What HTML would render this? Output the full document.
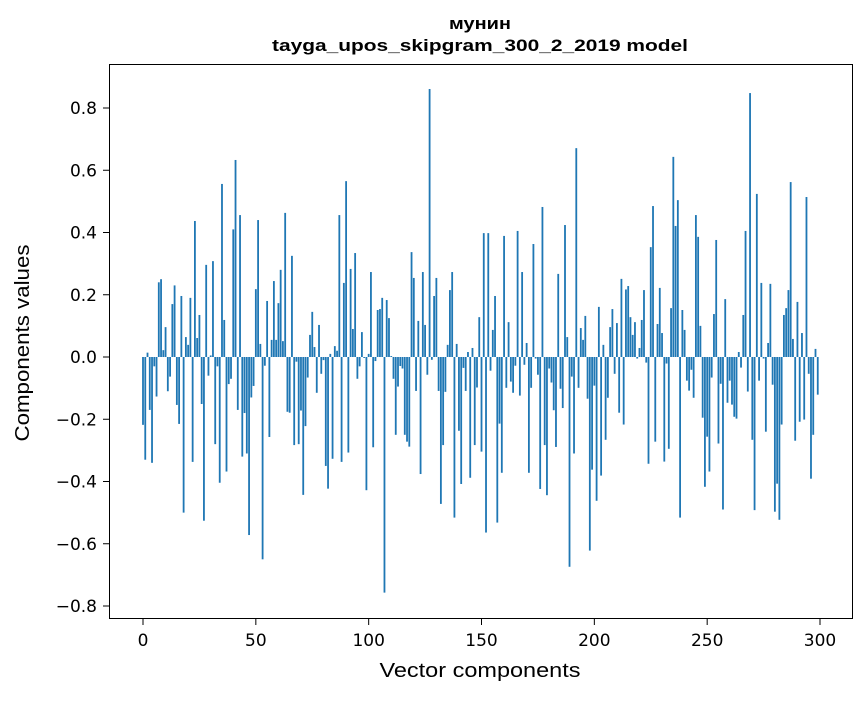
<!DOCTYPE html>
<html><head><meta charset="utf-8">
<style>
body{margin:0;background:#fff;font-family:"Liberation Sans","DejaVu Sans",sans-serif;}
svg text{font-family:"DejaVu Sans","Liberation Sans",sans-serif;}
svg text.lib{font-family:"Liberation Sans","DejaVu Sans",sans-serif;}
</style></head>
<body>
<svg id="chart" width="867" height="696" viewBox="0 0 867 696" xmlns="http://www.w3.org/2000/svg">
<rect x="0" y="0" width="867" height="696" fill="#fff"/>
<text class="lib" x="480" y="29" text-anchor="middle" font-size="17" font-weight="bold" textLength="62" lengthAdjust="spacingAndGlyphs">мунин</text>
<text class="lib" x="480" y="51" text-anchor="middle" font-size="17" font-weight="bold" textLength="416" lengthAdjust="spacingAndGlyphs">tayga_upos_skipgram_300_2_2019 model</text>
<g id="bars"></g>
<g id="axes"></g>
<rect x="109.5" y="64.5" width="743" height="554" fill="none" stroke="#000" stroke-width="1"/>
<text class="lib" x="480" y="677" text-anchor="middle" font-size="20" textLength="201" lengthAdjust="spacingAndGlyphs">Vector components</text>
<text class="lib" transform="translate(29,343) rotate(-90)" text-anchor="middle" font-size="20" textLength="197" lengthAdjust="spacingAndGlyphs">Components values</text>
</svg>
<script>
const values = [
-0.218,-0.33,0.014,-0.17,-0.34,-0.03,-0.127,0.24,0.25,0.022,
0.096,-0.11,-0.063,0.17,0.23,-0.154,-0.215,0.196,-0.5,0.064,
0.039,0.19,-0.337,0.437,0.061,0.135,-0.151,-0.526,0.296,-0.06,
0.005,0.308,-0.28,-0.03,-0.404,0.556,0.119,-0.368,-0.087,-0.07,
0.41,0.633,-0.17,0.456,-0.32,-0.18,-0.31,-0.572,-0.13,-0.093,
0.218,0.44,0.042,-0.65,-0.028,0.18,-0.257,0.055,0.244,0.055,
0.173,0.28,0.051,0.463,-0.176,-0.179,0.325,-0.283,-0.015,-0.28,
-0.172,-0.443,-0.222,-0.066,0.071,0.145,0.032,-0.115,0.103,-0.054,
-0.01,-0.35,-0.423,0.01,-0.327,0.035,0.02,0.456,-0.337,0.238,
0.565,-0.307,0.283,0.09,0.334,-0.07,-0.03,0.08,-0.003,-0.428,
0.01,0.273,-0.29,-0.013,0.151,0.154,0.19,-0.757,0.183,0.125,
0.003,-0.07,-0.25,-0.095,-0.029,-0.037,-0.25,-0.272,-0.288,0.337,
0.254,-0.109,0.116,-0.376,0.273,0.103,-0.057,0.861,-0.009,0.196,
0.254,-0.109,-0.472,-0.283,-0.112,0.039,0.215,0.273,-0.516,0.042,
-0.237,-0.408,-0.035,-0.109,0.016,-0.388,0.029,-0.283,-0.098,0.128,
-0.304,0.398,-0.564,0.398,-0.044,0.087,0.196,-0.532,-0.214,-0.372,
0.389,-0.099,0.112,-0.079,-0.115,-0.028,0.405,-0.124,0.273,-0.025,
0.045,-0.372,-0.099,0.363,-0.005,-0.057,-0.424,0.482,-0.283,-0.444,
-0.037,-0.082,-0.171,-0.289,0.267,-0.102,-0.164,0.424,0.064,-0.674,
-0.063,-0.31,0.671,-0.099,0.093,0.055,0.132,-0.134,-0.622,-0.362,
-0.092,-0.462,0.161,-0.381,0.039,-0.266,-0.131,0.096,0.154,-0.054,
0.109,-0.179,0.251,-0.217,0.217,0.228,0.128,0.071,0.112,-0.005,
0.029,0.119,0.215,-0.018,-0.343,0.353,0.485,-0.272,0.106,0.222,
0.077,-0.336,-0.021,-0.295,0.157,0.643,0.421,0.504,-0.516,0.151,
0.087,-0.076,-0.108,-0.041,-0.131,0.456,0.386,0.1,-0.195,-0.417,
-0.256,-0.368,-0.066,0.138,0.376,-0.278,-0.086,-0.49,0.186,-0.147,
-0.076,-0.153,-0.192,-0.198,0.016,-0.034,0.135,0.405,-0.111,0.848,
-0.266,-0.492,0.524,-0.076,0.238,-0.005,-0.24,0.045,0.235,-0.089,
-0.497,-0.407,-0.523,-0.217,0.135,0.157,0.215,0.562,0.058,-0.269,
0.177,-0.208,0.077,-0.201,0.514,-0.054,-0.391,-0.25,0.026,-0.121
];
const xTicks = [0,50,100,150,200,250,300];
const yTicks = [-0.8,-0.6,-0.4,-0.2,0.0,0.2,0.4,0.6,0.8];

const NS = "http://www.w3.org/2000/svg";
function xScale(v){ return 143 + v * 2.2567; }
function yScale(v){ return 357 - v * 311.25; }
const barsG = document.getElementById('bars');
const axesG = document.getElementById('axes');
const bw = 0.8 * 2.2567;
values.forEach((v, i) => {
  const r = document.createElementNS(NS, 'rect');
  const y0 = yScale(0), y1 = yScale(v);
  r.setAttribute('x', xScale(i) - bw / 2);
  r.setAttribute('y', Math.min(y0, y1));
  r.setAttribute('width', bw);
  r.setAttribute('height', Math.max(Math.abs(y1 - y0), 0.3));
  r.setAttribute('fill', '#1f77b4');
  
  
  barsG.appendChild(r);
});
xTicks.forEach(t => {
  const x = xScale(t);
  const l = document.createElementNS(NS, 'line');
  l.setAttribute('x1', x); l.setAttribute('x2', x);
  l.setAttribute('y1', 618.5); l.setAttribute('y2', 625);
  l.setAttribute('stroke', '#000');
  
  
  axesG.appendChild(l);
  const tx = document.createElementNS(NS, 'text');
  tx.setAttribute('x', x); tx.setAttribute('y', 646);
  tx.setAttribute('text-anchor', 'middle');
  tx.setAttribute('font-size', '17');
  tx.textContent = String(t);
  
  
  axesG.appendChild(tx);
});
yTicks.forEach(t => {
  const y = yScale(t);
  const l = document.createElementNS(NS, 'line');
  l.setAttribute('x1', 103); l.setAttribute('x2', 109.5);
  l.setAttribute('y1', y); l.setAttribute('y2', y);
  l.setAttribute('stroke', '#000');
  
  
  axesG.appendChild(l);
  const tx = document.createElementNS(NS, 'text');
  tx.setAttribute('x', 97); tx.setAttribute('y', y + 6);
  tx.setAttribute('text-anchor', 'end');
  tx.setAttribute('font-size', '17');
  tx.textContent = (t < 0 ? '\u2212' : '') + Math.abs(t).toFixed(1);
  
  
  axesG.appendChild(tx);
});
</script>
</body></html>
